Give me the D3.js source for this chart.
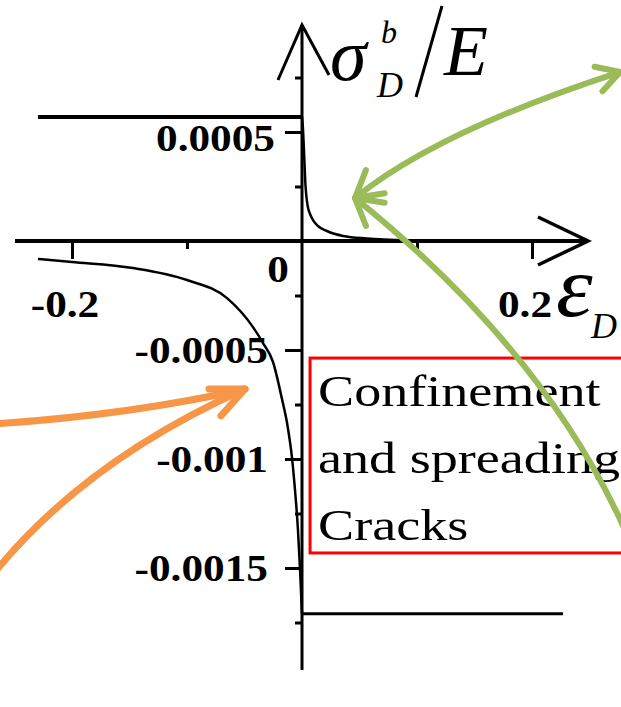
<!DOCTYPE html>
<html>
<head>
<meta charset="utf-8">
<script src="https://cdn.jsdelivr.net/npm/d3@7"></script>
<style>
  html, body { margin: 0; padding: 0; background: #ffffff; overflow: hidden; }
  svg { display: block; }
</style>
</head>
<body>
<svg id="chart" width="621" height="707"></svg>
<script>
// Damage stress / Young's modulus against damage strain
// Tensile branch (strain > 0)
const tensionStrain = [0, 0.0009, 0.0017, 0.0030, 0.0048, 0.0070, 0.0096, 0.0139, 0.0217, 0.0357, 0.0565, 0.1000, 0.1200];
const tensionStress = [0.000569, 0.000509, 0.000417, 0.000257, 0.000165, 0.000124, 0.0000963, 0.0000688, 0.0000459, 0.0000229, 0.0000115, 0.0000023, 0];

// Compressive branch (strain < 0)
const compressionStrain = [-0.2296, -0.2000, -0.1470, -0.1000, -0.0652, -0.0426, -0.0339, -0.0252, -0.0174, -0.0130, -0.0087, -0.0061, -0.0035, -0.0017, 0];
const compressionStress = [-0.0000826, -0.0000963, -0.000124, -0.000179, -0.000262, -0.000395, -0.000468, -0.000555, -0.000725, -0.000835, -0.000995, -0.001142, -0.001326, -0.001509, -0.00171];

// Axis ticks
const xMajorTicks = [-0.2, 0.2];
const xMinorTicks = [-0.1, 0.1];
const xTickLabels = ["-0.2", "0.2"];
const originLabel = "0";
const yMajorTicks = [0.0005, -0.0005, -0.001, -0.0015];
const yMinorTicks = [0.00075, 0.00025, -0.00025, -0.00075, -0.00125, -0.00175];
const yTickLabels = ["0.0005", "-0.0005", "-0.001", "-0.0015"];

// Note box
const noteLines = ["Confinement", "and spreading", "Cracks"];
const noteBox = { x0: 0.007, x1: 0.30, y0: -0.000537, y1: -0.001431 };

// Pointer arrows (tip, control, far end) in data units
const greenTip = [0.0461, 0.000197];
const greenUpper = { ctrl: [0.1183, 0.000505], end: [0.2765, 0.000775] };
const greenLower = { ctrl: [0.2104, -0.000500], end: [0.2809, -0.001326] };
const orangeTip = [-0.0496, -0.000679];
const orangeUpper = { ctrl: [-0.1496, -0.000798], start: [-0.2670, -0.000839] };
const orangeLower = { ctrl: [-0.1913, -0.001014], start: [-0.2713, -0.001546] };

const svg = d3.select("#chart");
const x = d3.scaleLinear().domain([-0.2, 0.2]).range([72, 532]);
const y = d3.scaleLinear().domain([-0.0015, 0.0005]).range([568, 132]);
const x0 = x(0), y0 = y(0);

const serif = "'Liberation Serif', 'Times New Roman', serif";
const ink = "#000000";

// horizontal stretch about the text anchor
function stretch(sel, sx) {
  sel.each(function () {
    const t = d3.select(this);
    const ax = +t.attr("x") || 0;
    t.attr("transform", `translate(${ax * (1 - sx)},0) scale(${sx},1)`);
  });
}

// ---- peak reference lines ----
svg.append("line")
  .attr("x1", x(compressionStrain[0])).attr("x2", x0)
  .attr("y1", y(tensionStress[0])).attr("y2", y(tensionStress[0]))
  .attr("stroke", ink).attr("stroke-width", 4);
svg.append("line")
  .attr("x1", x0).attr("x2", x(0.227))
  .attr("y1", y(compressionStress[compressionStress.length - 1]))
  .attr("y2", y(compressionStress[compressionStress.length - 1]))
  .attr("stroke", ink).attr("stroke-width", 3);

// ---- axes lines with arrowheads ----
const yTop = 25, yBottom = 670, xLeft = 15, xRight = 588;
svg.append("line").attr("x1", x0).attr("x2", x0).attr("y1", yTop).attr("y2", yBottom)
  .attr("stroke", ink).attr("stroke-width", 3);
svg.append("path")
  .attr("d", `M${x0 - 24},${yTop + 55} L${x0},${yTop} L${x0 + 27},${yTop + 50}`)
  .attr("fill", "none").attr("stroke", ink).attr("stroke-width", 3);
svg.append("line").attr("x1", xLeft).attr("x2", xRight).attr("y1", y0).attr("y2", y0)
  .attr("stroke", ink).attr("stroke-width", 4);
svg.append("path")
  .attr("d", `M${xRight - 50},${y0 - 24} L${xRight},${y0} L${xRight - 50},${y0 + 24}`)
  .attr("fill", "none").attr("stroke", ink).attr("stroke-width", 3.5);

// ---- ticks ----
function styleTicks(g, w) {
  g.select(".domain").remove();
  g.selectAll("line").attr("stroke", ink).attr("stroke-width", w);
}
svg.append("g").attr("transform", `translate(${x0},0)`)
  .call(d3.axisLeft(y).tickValues(yMajorTicks).tickSize(17).tickFormat(""))
  .call(g => styleTicks(g, 3));
svg.append("g").attr("transform", `translate(${x0},0)`)
  .call(d3.axisLeft(y).tickValues(yMinorTicks).tickSize(7).tickFormat(""))
  .call(g => styleTicks(g, 3));
svg.append("g").attr("transform", `translate(0,${y0})`)
  .call(d3.axisBottom(x).tickValues(xMajorTicks).tickSize(18).tickFormat(""))
  .call(g => styleTicks(g, 3));
svg.append("g").attr("transform", `translate(0,${y0})`)
  .call(d3.axisBottom(x).tickValues(xMinorTicks).tickSize(8).tickFormat(""))
  .call(g => styleTicks(g, 3));

// ---- tick labels ----
const yLab = svg.append("g").selectAll("text").data(yMajorTicks).join("text")
  .attr("x", d => d > 0 ? x0 - 27 : x0 - 34)
  .attr("y", d => d > 0 ? y(d) + 19 : y(d) + 13)
  .attr("text-anchor", "end")
  .attr("font-family", serif).attr("font-weight", "bold").attr("font-size", 37)
  .attr("fill", ink)
  .text((d, i) => yTickLabels[i]);
stretch(yLab, 1.17);

const xLab = svg.append("g").selectAll("text").data(xMajorTicks).join("text")
  .attr("x", d => x(d) - 7)
  .attr("y", y0 + 76)
  .attr("text-anchor", "middle")
  .attr("font-family", serif).attr("font-weight", "bold").attr("font-size", 37)
  .attr("fill", ink)
  .text((d, i) => xTickLabels[i]);
stretch(xLab, 1.17);

const oLab = svg.append("text")
  .attr("x", x0 - 13).attr("y", y0 + 41)
  .attr("text-anchor", "end")
  .attr("font-family", serif).attr("font-weight", "bold").attr("font-size", 37)
  .attr("fill", ink).text(originLabel);
stretch(oLab, 1.17);

// ---- curves ----
const line = d3.line().x(d => x(d[0])).y(d => y(d[1])).curve(d3.curveMonotoneX);
svg.append("path")
  .attr("d", line(tensionStrain.map((e, i) => [e, tensionStress[i]])))
  .attr("fill", "none").attr("stroke", ink).attr("stroke-width", 2.5);
svg.append("path")
  .attr("d", line(compressionStrain.map((e, i) => [e, compressionStress[i]])))
  .attr("fill", "none").attr("stroke", ink).attr("stroke-width", 2.5);

// ---- axis titles: σ^b_D / E and ε_D ----
const it = svg.append("g").attr("font-family", serif).attr("font-style", "italic").attr("fill", ink);
it.append("text").attr("x", 330).attr("y", 80).attr("font-size", 74).text("σ");
it.append("text").attr("x", 381).attr("y", 43).attr("font-size", 32).text("b");
it.append("text").attr("x", 377).attr("y", 97).attr("font-size", 36).text("D");
// fraction slash set as a thin rule
svg.append("line").attr("x1", 442).attr("y1", 6).attr("x2", 416).attr("y2", 97)
  .attr("stroke", ink).attr("stroke-width", 3);
it.append("text").attr("x", 444).attr("y", 75).attr("font-size", 72).text("E");
it.append("text").attr("x", 0).attr("y", 0).attr("font-size", 86)
  .attr("transform", "translate(556,316) scale(1.08,1)").text("ε");
it.append("text").attr("x", 591).attr("y", 338).attr("font-size", 36).text("D");

// ---- note box ----
svg.append("rect")
  .attr("x", x(noteBox.x0)).attr("y", y(noteBox.y0))
  .attr("width", x(noteBox.x1) - x(noteBox.x0))
  .attr("height", y(noteBox.y1) - y(noteBox.y0))
  .attr("fill", "none").attr("stroke", "#ff0000").attr("stroke-width", 3);
const note = svg.append("g").selectAll("text").data(noteLines).join("text")
  .attr("x", x(noteBox.x0) + 8)
  .attr("y", (d, i) => y(noteBox.y0) + 48 + i * 67)
  .attr("font-family", serif).attr("font-size", 44).attr("fill", ink)
  .text(d => d);
stretch(note, 1.23);

// ---- pointer arrows ----
const P = p => [x(p[0]), y(p[1])];
function quad(a, c, b) {
  return `M${a[0]},${a[1]} Q${c[0]},${c[1]} ${b[0]},${b[1]}`;
}
// arrowhead at tip, pointing away from 'from'
function head(tip, from, len, half) {
  const ang = Math.atan2(tip[1] - from[1], tip[0] - from[0]);
  const a1 = ang + Math.PI - half, a2 = ang + Math.PI + half;
  return `M${tip[0] + len * Math.cos(a1)},${tip[1] + len * Math.sin(a1)} L${tip[0]},${tip[1]} L${tip[0] + len * Math.cos(a2)},${tip[1] + len * Math.sin(a2)}`;
}
const green = "#9bbb59", orange = "#f79646";
const gA = svg.append("g").attr("fill", "none").attr("stroke", green)
  .attr("stroke-width", 6).attr("stroke-linecap", "round").attr("stroke-linejoin", "round");
const gt = P(greenTip);
gA.append("path").attr("d", quad(gt, P(greenUpper.ctrl), P(greenUpper.end)));
gA.append("path").attr("d", quad(gt, P(greenLower.ctrl), P(greenLower.end)));
gA.append("path").attr("d", head(gt, P(greenUpper.ctrl), 30, 0.52));
gA.append("path").attr("d", head(gt, P(greenLower.ctrl), 30, 0.52));
gA.append("path").attr("d", head(P(greenUpper.end), P(greenUpper.ctrl), 26, 0.52));

const oA = svg.append("g").attr("fill", "none").attr("stroke", orange)
  .attr("stroke-width", 7).attr("stroke-linecap", "round").attr("stroke-linejoin", "round");
const ot = P(orangeTip);
oA.append("path").attr("d", quad(P(orangeUpper.start), P(orangeUpper.ctrl), ot));
oA.append("path").attr("d", quad(P(orangeLower.start), P(orangeLower.ctrl), ot));
oA.append("path").attr("d", head(ot, P(orangeLower.ctrl), 36, 0.42));
</script>
</body>
</html>
